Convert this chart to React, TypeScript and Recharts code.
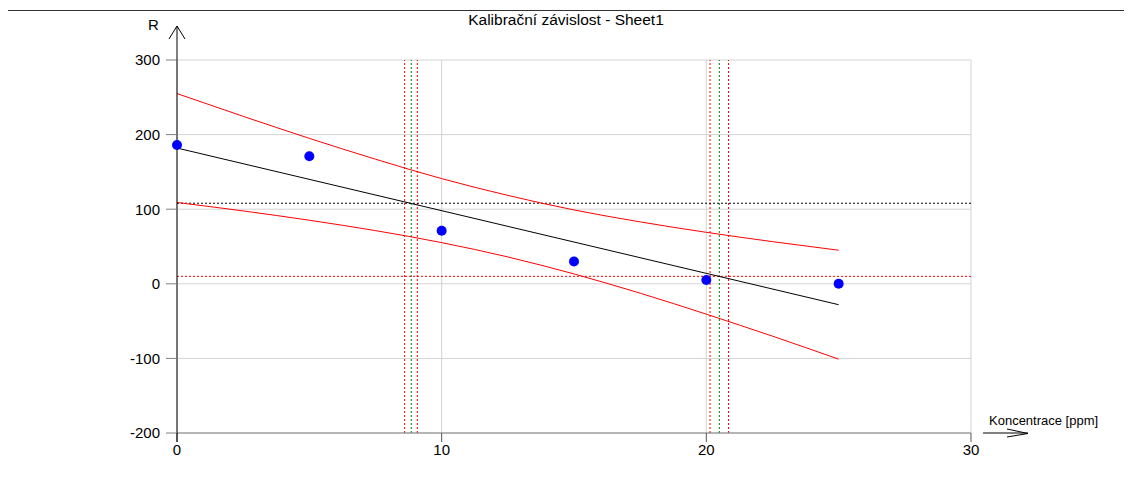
import React from 'react';
import {
  ComposedChart,
  Line,
  Scatter,
  XAxis,
  YAxis,
  CartesianGrid,
  ReferenceLine,
} from 'recharts';

// calibration standards
const concentration = [0, 5, 10, 15, 20, 25];
const response = [186, 171, 71, 30, 5, 0];

// regression line
const fitX = [0, 25];
const fitY = [182, -28];

// confidence band
const bandX = [0, 2.5, 5, 7.5, 10, 12.5, 15, 17.5, 20, 22.5, 25];
const bandUpper = [255, 224.5, 195, 167, 141, 118.5, 99, 83, 69, 56.5, 45];
const bandLower = [109, 97.7, 85.2, 71.3, 55.2, 36, 13.2, -12.6, -40.7, -70.2, -101];

// limit markers
const redVertical = [8.6, 9.08, 20.14, 20.84];
const greenVertical = [8.85, 20.49];
const blackHorizontal = [108];
const redHorizontal = [10];

const xTicks = [0, 10, 20, 30];
const yTicks = [-200, -100, 0, 100, 200, 300];

const W = 1132;
const H = 501;
const LEFT = 177;
const RIGHT = 971;
const TOP = 60;
const BOTTOM = 433;
const Y_AXIS_W = 60;
const X_AXIS_H = 30;

const points = concentration.map((x, i) => ({ x, y: response[i] }));
const fit = fitX.map((x, i) => ({ x, y: fitY[i] }));
const upper = bandX.map((x, i) => ({ x, y: bandUpper[i] }));
const lower = bandX.map((x, i) => ({ x, y: bandLower[i] }));

const font = 'Liberation Sans, Arial, sans-serif';

const Dot = (props: any) => <circle cx={props.cx} cy={props.cy} r={5} fill="#0000ff" />;

export default function App() {
  return (
    <div style={{ position: 'relative', width: W, height: H, margin: -8, background: '#fff', fontFamily: font }}>
      <ComposedChart
        width={W}
        height={H}
        margin={{ top: TOP, right: W - RIGHT, bottom: H - BOTTOM - X_AXIS_H, left: LEFT - Y_AXIS_W }}
      >
        <CartesianGrid stroke="#d4d4d4" strokeWidth={1} />
        <XAxis
          type="number"
          dataKey="x"
          domain={[0, 30]}
          ticks={xTicks}
          height={X_AXIS_H}
          axisLine={{ stroke: '#808080' }}
          tickLine={{ stroke: '#555' }}
          tickSize={9}
          tickMargin={2}
          tick={{ fill: '#000', fontSize: 15, fontFamily: font }}
          allowDuplicatedCategory={false}
        />
        <YAxis
          type="number"
          dataKey="y"
          domain={[-200, 300]}
          ticks={yTicks}
          width={Y_AXIS_W}
          axisLine={{ stroke: '#000' }}
          tickLine={{ stroke: '#808080' }}
          tickSize={11}
          tickMargin={6}
          tick={{ fill: '#000', fontSize: 15, fontFamily: font }}
        />
        {redVertical.map((v) => (
          <ReferenceLine key={'rv' + v} x={v} stroke="#ff0000" strokeDasharray="2 2" />
        ))}
        {greenVertical.map((v) => (
          <ReferenceLine key={'gv' + v} x={v} stroke="#008000" strokeDasharray="2 2" />
        ))}
        {blackHorizontal.map((v) => (
          <ReferenceLine key={'bh' + v} y={v} stroke="#000" strokeDasharray="2 2" />
        ))}
        {redHorizontal.map((v) => (
          <ReferenceLine key={'rh' + v} y={v} stroke="#ff0000" strokeDasharray="2 2" />
        ))}
        <Line data={upper} dataKey="y" stroke="#ff0000" strokeWidth={1} dot={false} type="monotone" isAnimationActive={false} />
        <Line data={lower} dataKey="y" stroke="#ff0000" strokeWidth={1} dot={false} type="monotone" isAnimationActive={false} />
        <Line data={fit} dataKey="y" stroke="#000" strokeWidth={1} dot={false} type="linear" isAnimationActive={false} />
        <Scatter data={points} dataKey="y" shape={Dot} isAnimationActive={false} />
      </ComposedChart>
      <svg
        width={W}
        height={H}
        style={{ position: 'absolute', left: 0, top: 0, pointerEvents: 'none' }}
      >
        <line x1={6.5} y1={10.5} x2={W} y2={10.5} stroke="#333" />
        <line x1={6.5} y1={10.5} x2={6.5} y2={H} stroke="#333" />
        <text x={566} y={25} textAnchor="middle" fontSize={15.5} fontFamily={font} fill="#000">
          Kalibrační závislost - Sheet1
        </text>
        {/* y axis arrow */}
        <line x1={LEFT} y1={TOP} x2={LEFT} y2={26} stroke="#000" />
        <polyline points={`${LEFT - 8},39 ${LEFT},26 ${LEFT + 8},39`} fill="none" stroke="#000" />
        <text x={148} y={30} fontSize={15} fontFamily={font} fill="#000">R</text>
        {/* zero tick is drawn black as a continuation of the y axis */}
        <line x1={LEFT} y1={BOTTOM} x2={LEFT} y2={BOTTOM + 9} stroke="#000" />
        {/* x axis arrow */}
        <line x1={983} y1={BOTTOM} x2={1028} y2={BOTTOM} stroke="#000" />
        <polyline points={`1007,429 1028,433.5 1007,437`} fill="none" stroke="#000" />
        <text x={989} y={425} fontSize={13} fontFamily={font} fill="#000">Koncentrace [ppm]</text>
      </svg>
    </div>
  );
}
